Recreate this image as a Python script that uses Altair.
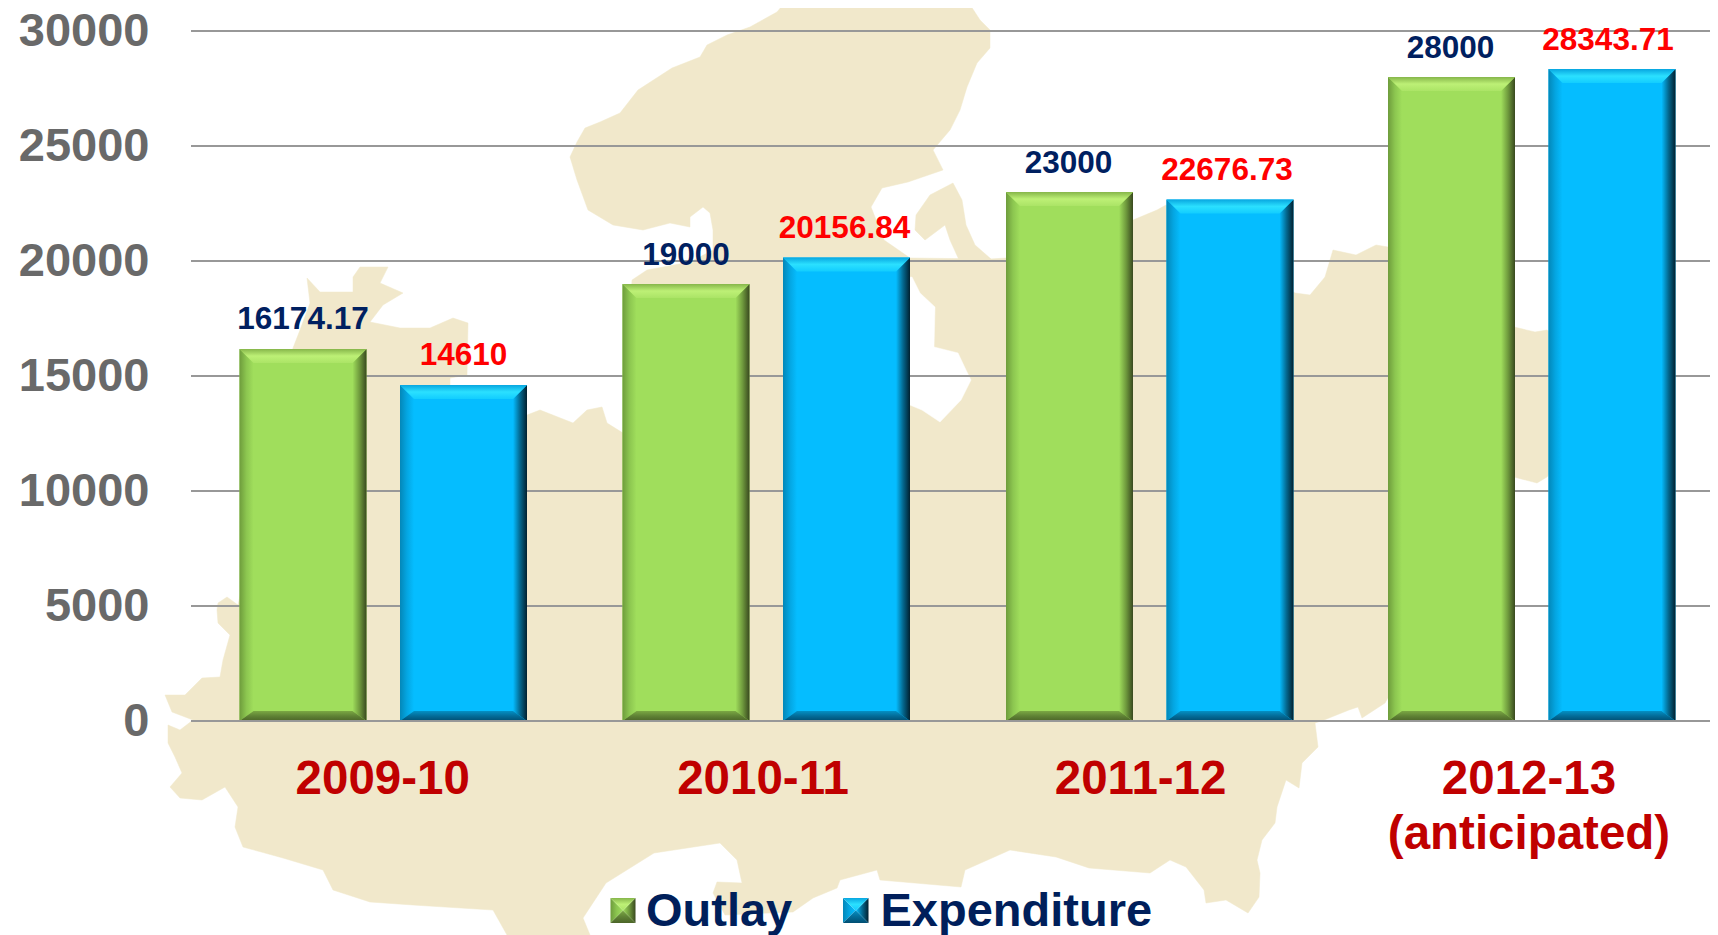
import altair as alt
import pandas as pd

# ---- chart values ----
categories = ["2009-10", "2010-11", "2011-12", "2012-13\n(anticipated)"]
outlay = [16174.17, 19000, 23000, 28000]
expenditure = [14610, 20156.84, 22676.73, 28343.71]
outlay_labels = ["16174.17", "19000", "23000", "28000"]
expenditure_labels = ["14610", "20156.84", "22676.73", "28343.71"]
y_ticks = [0, 5000, 10000, 15000, 20000, 25000, 30000]
series_names = ["Outlay", "Expenditure"]

# ---- background map outline (page x, page y) ----
map_x = [787,967,980,990,990,977,967,960,950,933,943,908,882,871,884,910,990,1006,1133,1157,1166,1295,1310,1325,1333,1356,1376,1388,
         1514,1535,1547,1560,1560,1547,1537,1514,1385,1362,1358,1349,1324,1315,1318,1302,1299,1286,1277,1275,1262,1257,1260,1259,1248,
         1226,1206,1204,1186,1170,1150,1089,1056,1010,965,961,880,877,840,837,813,793,725,713,717,742,737,720,654,630,606,583,590,507,
         493,413,370,333,323,283,243,235,238,225,202,180,170,182,175,168,168,180,193,172,165,185,202,220,223,230,218,217,218,227,238,
         293,300,310,307,320,353,353,360,388,380,403,383,370,400,430,453,468,467,450,450,527,540,573,587,602,607,623,632,647,690,713,
         713,710,703,690,690,670,643,613,588,577,570,577,585,600,620,638,672,700,707,727,750,777]
map_y = [0,0,20,30,48,63,87,110,130,150,170,182,188,207,240,258,259,258,220,210,205,293,295,277,250,255,245,247,
         327,332,330,340,460,477,483,477,703,718,707,710,720,723,747,763,788,780,807,823,840,860,873,897,913,
         900,903,890,867,860,873,868,857,850,870,887,880,870,880,888,898,912,915,893,882,883,860,843,853,868,883,918,935,935,
         910,905,902,890,870,858,847,827,807,787,800,798,787,773,757,743,725,730,720,712,695,695,678,677,660,635,623,610,603,597,605,
         348,330,303,278,292,292,277,267,267,283,293,305,322,328,328,318,323,375,378,387,415,410,423,410,407,423,433,280,270,262,250,
         230,213,207,217,227,223,230,225,210,180,157,142,128,122,113,90,68,57,45,35,27,12]
islands_x = [916,930,953,962,966,975,991,960,950,945,925,915]
islands_y = [215,195,183,200,225,245,259,262,240,225,240,230]
bay_x = [912,920,935,934,958,966,971,961,940,922,905,880,890]
bay_y = [277,293,307,347,353,370,380,400,422,410,403,340,280]

# ---- layout ----
PLOT_LEFT, PLOT_W = 191, 1519
ZERO_Y, PX_PER_UNIT = 721, 690 / 30000
group_left = [239.5, 622.5, 1006, 1388]
series_shift = [0, 160.5]
BAR_W, BEVEL, BEVEL_BOTTOM = 127, 14, 10
label_nudge = [[0, 0], [0, -2], [-1, -3], [-1, -4]]
cat_centers = [382.7, 763, 1140.6, 1529]
FONT = "Liberation Sans"


def val(py):
    return (ZERO_Y - py) / PX_PER_UNIT


xs = alt.Scale(domain=[PLOT_LEFT, PLOT_LEFT + PLOT_W], nice=False, zero=False)
ys = alt.Scale(domain=[0, 30000], nice=False, zero=False)
y_axis = alt.Axis(
    values=y_ticks, title=None, domain=False, ticks=False, grid=False, format="d",
    labelFont=FONT, labelFontSize=47, labelFontWeight="bold", labelColor="#696969",
    labelPadding=42, labelBound=False, labelFlush=False, labelOverlap=False)
X = lambda f="x": alt.X(f"{f}:Q", scale=xs, axis=None)
Y = lambda f="y": alt.Y(f"{f}:Q", scale=ys, axis=y_axis)


def poly(px, py, color):
    d = pd.DataFrame({"x": px, "y": [val(v) for v in py], "o": range(len(px))})
    return alt.Chart(d).mark_line(
        fill=color, stroke=color, strokeWidth=0.5, interpolate="linear-closed"
    ).encode(x=X(), y=Y(), order="o:Q")


map_layers = [
    poly(map_x, map_y, "#F1E8CB"),
    poly(bay_x, bay_y, "#FFFFFF"),
    poly(islands_x, islands_y, "#F1E8CB"),
]

grid = alt.Chart(pd.DataFrame({"y": y_ticks})).mark_rule(color="#989898", strokeWidth=2).encode(
    x=alt.value(0), x2=alt.value(PLOT_W), y=Y(),
)
zero_line = alt.Chart(pd.DataFrame({"y": [0]})).mark_rule(color="#989898", strokeWidth=2).encode(
    x=alt.value(0), x2=alt.value(PLOT_W), y=Y()
)


def grad(direction, stops):
    n = len(stops) - 1
    kw = dict(x1=0, y1=0, x2=1, y2=0) if direction == "h" else dict(x1=0, y1=0, x2=0, y2=1)
    return alt.Gradient(
        gradient="linear",
        stops=[alt.GradientStop(offset=i / n, color=c) for i, c in enumerate(stops)],
        **kw,
    )


STYLE = {
    "Outlay": dict(
        main="#A0DE5C",
        left=grad("h", ["#6E9C3C", "#8CC650", "#A0DE5C"]),
        right=grad("h", ["#A0DE5C", "#6F9A3D", "#39491F"]),
        top=grad("v", ["#86B64A", "#BDF076", "#ABE466"]),
        bottom=grad("v", ["#7BA843", "#5F8235", "#4C6528"]),
    ),
    "Expenditure": dict(
        main="#05BDFF",
        left=grad("h", ["#0387B8", "#04A6E2", "#05BDFF"]),
        right=grad("h", ["#05BDFF", "#04688F", "#01202F"]),
        top=grad("v", ["#08A6E0", "#2BE0FF", "#12CDFF"]),
        bottom=grad("v", ["#0490C4", "#036C98", "#014E72"]),
    ),
}


def sides(x0, x1, ytop, ybot, bx, by, bb):
    """Four mitred bevel trapezoids, as rows for an area mark."""
    return {
        "left": [(x0, ytop, ybot), (x0 + bx, ytop - by, ybot + bb)],
        "right": [(x1 - bx, ytop - by, ybot + bb), (x1, ytop, ybot)],
        "top": [(x0, ytop, ytop), (x0 + bx, ytop, ytop - by), (x1 - bx, ytop, ytop - by), (x1, ytop, ytop)],
        "bottom": [(x0, ybot, ybot), (x0 + bx, ybot + bb, ybot), (x1 - bx, ybot + bb, ybot), (x1, ybot, ybot)],
    }


by = BEVEL / PX_PER_UNIT
bb = BEVEL_BOTTOM / PX_PER_UNIT
bar_rows, bevel_rows, text_rows = [], [], []
for s, (name, vals, labs) in enumerate(zip(series_names, [outlay, expenditure], [outlay_labels, expenditure_labels])):
    for g, (v, lab) in enumerate(zip(vals, labs)):
        x0 = group_left[g] + series_shift[s]
        x1 = x0 + BAR_W
        bar_rows.append({"series": name, "x": x0, "x2": x1, "y": v, "y2": 0})
        text_rows.append({"series": name, "x": (x0 + x1) / 2 + label_nudge[g][s],
                          "y": v + 19.5 / PX_PER_UNIT, "label": lab})
        for side, pts in sides(x0, x1, v, 0, BEVEL, by, bb).items():
            for (a, b, c) in pts:
                bevel_rows.append({"series": name, "side": side, "id": f"{s}{g}", "x": a, "y": b, "y2": c})

# legend swatches are small pyramids
SW = [(610.5, 635.5), (843, 868.5)]
for s, name in enumerate(series_names):
    a, b = SW[s]
    h = 12.5 / PX_PER_UNIT
    for side, pts in sides(a, b, val(898), val(923), 12.5, h, h).items():
        for (p, q, r) in pts:
            bevel_rows.append({"series": name, "side": side, "id": f"L{s}", "x": p, "y": q, "y2": r})

bars_df = pd.DataFrame(bar_rows)
bevel_df = pd.DataFrame(bevel_rows)
text_df = pd.DataFrame(text_rows)

bar_layers = []
for name in series_names:
    bar_layers.append(
        alt.Chart(bars_df[bars_df.series == name]).mark_rect(color=STYLE[name]["main"]).encode(
            x=X(), x2="x2:Q", y=Y(), y2="y2:Q")
    )
    for side in ["left", "right", "top", "bottom"]:
        d = bevel_df[(bevel_df.series == name) & (bevel_df.side == side)]
        bar_layers.append(
            alt.Chart(d).mark_area(color=STYLE[name][side]).encode(
                x=X(), y=Y(), y2="y2:Q", detail="id:N")
        )

value_text = []
for name, color in zip(series_names, ["#002060", "#FF0000"]):
    value_text.append(
        alt.Chart(text_df[text_df.series == name]).mark_text(
            font=FONT, fontSize=31.5, fontWeight="bold", color=color,
            align="center", baseline="alphabetic"
        ).encode(x=X(), y=Y(), text="label:N")
    )

cat_text = alt.Chart(pd.DataFrame({
    "x": cat_centers, "y": [val(794)] * 4, "label": categories
})).mark_text(
    font=FONT, fontSize=47.5, fontWeight="bold", color="#C00000",
    align="center", baseline="alphabetic", lineBreak="\n", lineHeight=55
).encode(x=X(), y=Y(), text="label:N")

legend_text = alt.Chart(pd.DataFrame({
    "x": [646, 880.5], "y": [val(925.7)] * 2, "label": series_names
})).mark_text(
    font=FONT, fontSize=47, fontWeight="bold", color="#001F5B",
    align="left", baseline="alphabetic"
).encode(x=X(), y=Y(), text="label:N")

chart = alt.layer(
    *map_layers, grid, *bar_layers, zero_line, *value_text, cat_text, legend_text
).properties(
    width=PLOT_W, height=690,
    padding={"left": 183, "top": 23, "right": 0, "bottom": 214},
    autosize=alt.AutoSizeParams(type="none"),
    background="#FFFFFF",
).configure_view(stroke=None)

chart.save("out.html", embed_options={"renderer": "svg", "actions": False})
